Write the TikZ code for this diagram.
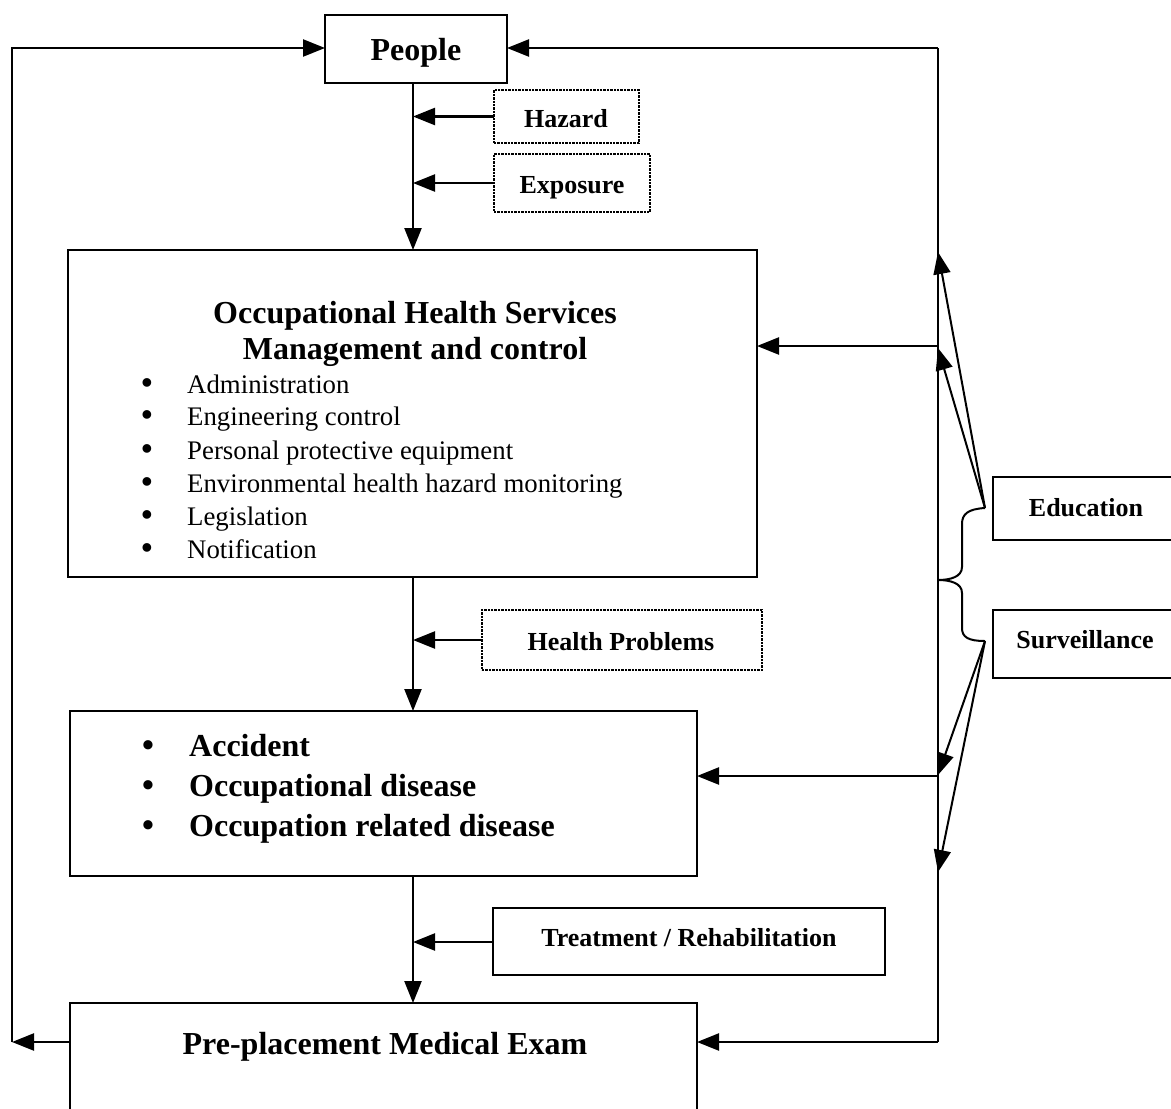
\documentclass[tikz,border=0pt]{standalone}
\usepackage{fontspec}
\setmainfont{Liberation Serif}
\usetikzlibrary{arrows.meta}
\begin{document}
\begin{tikzpicture}[x=1pt,y=-1pt,
  box/.style={draw,line width=2.4pt,inner sep=0pt,outer sep=0pt,fill=none},
  dbox/.style={box,densely dotted,line width=2.2pt},
  arr/.style={line width=2.4pt,-{Triangle[length=22pt,width=17pt]}},
  ln/.style={line width=2.4pt},
  big/.style={font=\bfseries\fontsize{32}{34}\selectfont,inner sep=0pt},
  small/.style={font=\bfseries\fontsize{26}{28}\selectfont,inner sep=0pt},
  item/.style={font=\fontsize{26.8}{28}\selectfont,inner sep=0pt,anchor=base west},
  bul/.style={font=\bfseries\fontsize{32}{34}\selectfont,inner sep=0pt,anchor=base},
  bigitem/.style={big,anchor=base west},
  bigbul/.style={font=\bfseries\fontsize{34}{36}\selectfont,inner sep=0pt,anchor=base}
]
\useasboundingbox (0,0) rectangle (1171,1109);
\clip (0,0) rectangle (1171,1109);

% boxes
\node[box,minimum width=182,minimum height=68] (people) at (416,49) {};
\node[dbox,minimum width=145,minimum height=53] (hazard) at (566.5,116.5) {};
\node[dbox,minimum width=156,minimum height=58] (exposure) at (572,183) {};
\node[box,minimum width=689,minimum height=327] (ohs) at (412.5,413.5) {};
\node[dbox,minimum width=280,minimum height=60] (hp) at (622,640) {};
\node[box,minimum width=627,minimum height=165] (acc) at (383.5,793.5) {};
\node[box,minimum width=392,minimum height=67] (treat) at (689,941.5) {};
\node[box,minimum width=627,minimum height=154] (pre) at (383.5,1080) {};
\node[box,minimum width=207,minimum height=63] (edu) at (1096.5,508.5) {};
\node[box,minimum width=207,minimum height=68] (surv) at (1096.5,644) {};

% texts
\node[big,anchor=base] (tpeople) at (416,60) {People};
\node[small,anchor=base] (thazard) at (566,127) {Hazard};
\node[small,anchor=base] (texposure) at (572,193) {Exposure};
\node[big,anchor=base] (tohs1) at (415,323) {Occupational Health Services};
\node[big,anchor=base] (tohs2) at (415,359) {Management and control};
\node[bul] (b1) at (147,393) {•};
\node[item] (i1) at (187,393) {Administration};
\node[bul] (b2) at (147,425) {•};
\node[item] (i2) at (187,425) {Engineering control};
\node[bul] (b3) at (147,459) {•};
\node[item] (i3) at (187,459) {Personal protective equipment};
\node[bul] (b4) at (147,492) {•};
\node[item] (i4) at (187,492) {Environmental health hazard monitoring};
\node[bul] (b5) at (147,525) {•};
\node[item] (i5) at (187,525) {Legislation};
\node[bul] (b6) at (147,558) {•};
\node[item] (i6) at (187,558) {Notification};
\node[small,anchor=base] (thp) at (621,650) {Health Problems};
\node[bigbul] (c1) at (148,756) {•};
\node[bigitem] (a1) at (189,756) {Accident};
\node[bigbul] (c2) at (148,796) {•};
\node[bigitem] (a2) at (189,796) {Occupational disease};
\node[bigbul] (c3) at (148,836) {•};
\node[bigitem] (a3) at (189,836) {Occupation related disease};
\node[small,anchor=base] (ttreat) at (689,946) {Treatment / Rehabilitation};
\node[big,anchor=base] (tpre) at (385,1054) {Pre-placement Medical Exam};
\node[small,anchor=base] (tedu) at (1086,516) {Education};
\node[small,anchor=base] (tsurv) at (1085,648) {Surveillance};

% coordinates
\coordinate (mx) at (413,0);
\coordinate (ltop) at (12,48);
\coordinate (lbot) at (12,1042);
\coordinate (rtop) at (938,48);
\coordinate (rohs) at (938,346);
\coordinate (racc) at (938,776);
\coordinate (rbot) at (938,1042);
\coordinate (try) at (0,942);
\coordinate (edtip) at (985,508);
\coordinate (svtip) at (985,641);
\coordinate (e1) at (938,252);
\coordinate (e2) at (938,348);
\coordinate (s1) at (938,775);
\coordinate (s2) at (938,872);

% main trunk
\draw[arr] (people.south -| mx) -- (ohs.north -| mx);
\draw[arr] (ohs.south -| mx) -- (acc.north -| mx);
\draw[arr] (acc.south -| mx) -- (pre.north -| mx);

% side inputs
\draw[arr] (hazard.west) -- (hazard.west -| mx);
\draw[arr] (exposure.west) -- (exposure.west -| mx);
\draw[arr] (hp.west) -- (hp.west -| mx);
\draw[arr] (treat.west |- try) -- (mx |- try);

% left loop
\draw[arr] (pre.west |- lbot) -- (lbot);
\draw[arr] (lbot) -- (ltop) -- (ltop -| people.west);

% right loop
\draw[ln] (rtop) -- (rbot);
\draw[arr] (rtop) -- (rtop -| people.east);
\draw[arr] (rohs) -- (rohs -| ohs.east);
\draw[arr] (racc) -- (racc -| acc.east);
\draw[arr] (rbot) -- (rbot -| pre.east);

% brace
\draw[ln,line width=2pt] (edtip) .. controls (968,509) and (962,514) .. (962,524)
  -- (962,567) .. controls (962,577) and (950,580) .. (938,580)
  .. controls (950,580) and (962,583) .. (962,593)
  -- (962,628) .. controls (962,637) and (968,641) .. (svtip);

% education / surveillance arrows
\draw[arr,line width=2pt] (edtip) -- (e1);
\draw[arr,line width=2pt] (edtip) -- (e2);
\draw[arr,line width=2pt] (svtip) -- (s1);
\draw[arr,line width=2pt] (svtip) -- (s2);
\end{tikzpicture}
\end{document}
